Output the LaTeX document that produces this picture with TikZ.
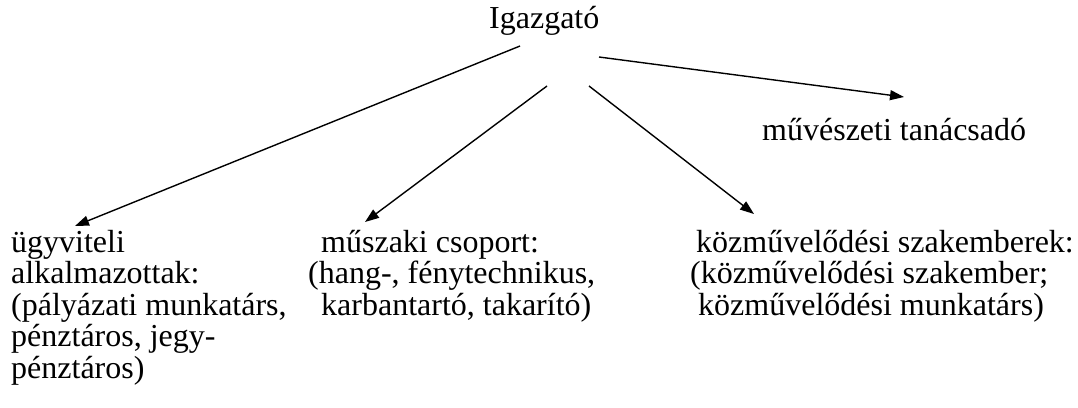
\documentclass[tikz,border=0pt]{standalone}
\usepackage{fontspec}
\setmainfont{Liberation Serif}
\usetikzlibrary{arrows.meta}
\begin{document}
\begin{tikzpicture}[x=1pt,y=-1pt,
  lbl/.style={anchor=base west, inner sep=0pt, align=left, font=\fontsize{32}{31.5}\selectfont},
  conn/.style={line width=1.4pt, -{Triangle[length=14pt,width=10pt]}}]
\fill[white] (0,0) rectangle (1078,407);
\useasboundingbox (0,0) rectangle (1078,407);
\node[lbl] (boss) at (489,28) {Igazgató};
\node[lbl] (art) at (762,140) {művészeti tanácsadó};
% anchor is the baseline of the last line
\node[lbl] (admin) at (11,378) {ügyviteli\\alkalmazottak:\\(pályázati munkatárs,\\pénztáros, jegy-\\pénztáros)};
\node[lbl] (tech) at (308,315) {\hspace*{13pt}műszaki csoport:\\(hang-, fénytechnikus,\\\hspace*{13pt}karbantartó, takarító)};
\node[lbl] (cult) at (690,315) {\hspace*{6pt}közművelődési szakemberek:\\(közművelődési szakember;\\\hspace*{8pt}közművelődési munkatárs)};
\coordinate (s1) at (520,46);
\coordinate (e1) at (75,226);
\coordinate (s2) at (547,86);
\coordinate (e2) at (365,222);
\coordinate (s3) at (589,86);
\coordinate (e3) at (754,214);
\coordinate (s4) at (599,57);
\coordinate (e4) at (904,97);
\draw[conn] (s1) -- (e1);
\draw[conn] (s2) -- (e2);
\draw[conn] (s3) -- (e3);
\draw[conn] (s4) -- (e4);
\end{tikzpicture}
\end{document}
